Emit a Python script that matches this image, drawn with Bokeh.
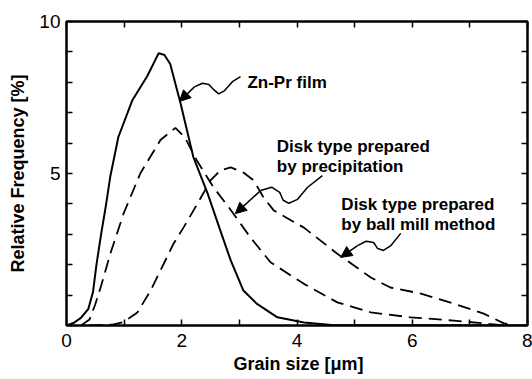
from bokeh.plotting import figure
from bokeh.models import Range1d, LinearAxis, FixedTicker, Title, Arrow, NormalHead, ColumnDataSource
from bokeh.core.properties import value
from bokeh.embed import file_html
from bokeh.resources import INLINE

FONT = "Liberation Sans"

# Zn-Pr film (solid)
zn_x = [0, 0.12, 0.25, 0.38, 0.46, 0.52, 0.6, 0.68, 0.76, 0.9, 1.14, 1.4, 1.6, 1.7, 1.8, 1.98, 2.2, 2.45, 2.67, 2.85, 3.07, 3.3, 3.66, 4.12, 4.6, 8.0]
zn_y = [0, 0.08, 0.25, 0.55, 1.1, 2.0, 3.0, 3.9, 4.9, 6.2, 7.4, 8.2, 8.96, 8.9, 8.6, 7.3, 5.55, 4.34, 3.12, 2.14, 1.15, 0.72, 0.27, 0.1, 0.02, 0]

# Disk type prepared by precipitation (dashed)
pr_x = [0.25, 0.4, 0.5, 0.6, 0.76, 0.99, 1.28, 1.63, 1.89, 2.05, 2.27, 2.55, 2.85, 3.19, 3.54, 4.12, 4.7, 5.28, 5.97, 6.72, 7.24, 7.6]
pr_y = [0, 0.2, 0.7, 1.3, 2.36, 3.68, 5.0, 6.1, 6.5, 6.2, 5.4, 4.55, 3.8, 2.9, 2.08, 1.37, 0.76, 0.43, 0.27, 0.16, 0.07, 0]

# Disk type prepared by ball mill method (dashed)
bm_x = [0.4, 0.8, 1.0, 1.11, 1.23, 1.46, 1.69, 1.86, 2.03, 2.27, 2.5, 2.67, 2.85, 3.07, 3.25, 3.42, 3.6, 4.12, 4.7, 5.28, 5.62, 6.15, 6.72, 7.24, 7.59, 7.8]
bm_y = [0, 0.03, 0.12, 0.27, 0.43, 1.15, 2.04, 2.7, 3.22, 4.0, 4.77, 5.1, 5.2, 5.03, 4.77, 4.21, 3.78, 3.22, 2.36, 1.58, 1.25, 1.05, 0.72, 0.39, 0.07, 0]

x_ticks = [0, 1, 2, 3, 4, 5, 6, 7, 8]
x_tick_labels = {0: "0", 1: "", 2: "2", 3: "", 4: "4", 5: "", 6: "6", 7: "", 8: "8"}
y_ticks = [0, 1, 2, 3, 4, 5, 6, 7, 8, 9, 10]
y_tick_labels = {0: "", 1: "", 2: "", 3: "", 4: "", 5: "5", 6: "", 7: "", 8: "", 9: "", 10: "10"}

# annotation texts and leader lines (data coordinates)
labels = [
    ("Zn-Pr film", 3.14, 7.99),
    ("Disk type prepared", 3.65, 5.89),
    ("by precipitation", 3.65, 5.23),
    ("Disk type prepared", 4.77, 3.98),
    ("by ball mill method", 4.77, 3.32),
]
leader_zn_x = [3.02, 2.88, 2.74, 2.64, 2.56, 2.47, 2.36, 2.22, 1.96]
leader_zn_y = [8.19, 8.02, 7.72, 7.62, 7.75, 7.93, 7.97, 7.85, 7.37]
leader_pr_x = [4.44, 4.18, 4.01, 3.86, 3.76, 3.70, 3.56, 3.37, 2.93]
leader_pr_y = [4.93, 4.54, 4.15, 4.02, 4.12, 4.38, 4.55, 4.44, 3.68]
leader_bm_x = [5.80, 5.63, 5.50, 5.40, 5.33, 5.20, 5.05, 4.76]
leader_bm_y = [3.03, 2.63, 2.47, 2.53, 2.73, 2.77, 2.63, 2.24]

p = figure(width=532, height=379, x_range=Range1d(0, 8), y_range=Range1d(0, 10),
           output_backend="svg", toolbar_location=None,
           min_border_left=66, min_border_right=5, min_border_top=21, min_border_bottom=54)
p.background_fill_color = "white"
p.border_fill_color = "white"
p.grid.visible = False
p.outline_line_color = "black"
p.outline_line_width = 2

bottom = p.below[0]
left = p.left[0]
bottom.ticker = FixedTicker(ticks=x_ticks)
bottom.major_label_overrides = x_tick_labels
left.ticker = FixedTicker(ticks=y_ticks)
left.major_label_overrides = y_tick_labels
left.axis_label = "Relative Frequency [%]"
left.axis_label_text_font = FONT
left.axis_label_text_font_style = "bold"
left.axis_label_text_font_size = "18px"
left.axis_label_text_color = "black"
left.axis_label_standoff = 8

top = LinearAxis(ticker=FixedTicker(ticks=x_ticks))
right = LinearAxis(ticker=FixedTicker(ticks=y_ticks))
p.add_layout(top, "above")
p.add_layout(right, "right")
for ax in (top, right):
    ax.major_label_text_font_size = "0px"
    ax.major_label_standoff = 0
    ax.major_label_overrides = {t: "" for t in (x_ticks if ax is top else y_ticks)}

for ax in (bottom, left, top, right):
    ax.axis_line_width = 2
    ax.axis_line_color = "black"
    ax.major_tick_in = 6
    ax.major_tick_out = 0
    ax.major_tick_line_width = 1.5
    ax.minor_tick_in = 0
    ax.minor_tick_out = 0
    ax.major_label_text_font = FONT
    ax.major_label_text_color = "black"
for ax in (bottom, left):
    ax.major_label_text_font_size = "19px"
bottom.major_label_standoff = 8
left.major_label_standoff = 6

p.line(zn_x, zn_y, line_color="black", line_width=2)
p.line(pr_x, pr_y, line_color="black", line_width=1.8, line_dash="13 7")
p.line(bm_x, bm_y, line_color="black", line_width=1.8, line_dash="13 7")

for lx, ly in ((leader_zn_x, leader_zn_y), (leader_pr_x, leader_pr_y), (leader_bm_x, leader_bm_y)):
    p.line(lx[:-1], ly[:-1], line_color="black", line_width=1.5)
    p.add_layout(Arrow(end=NormalHead(size=11, fill_color="black", line_color="black", line_width=1),
                       x_start=lx[-2], y_start=ly[-2], x_end=lx[-1], y_end=ly[-1],
                       line_color="black", line_width=1.5))

src = ColumnDataSource(dict(t=[l[0] for l in labels], x=[l[1] for l in labels], y=[l[2] for l in labels]))
p.text(x="x", y="y", text="t", source=src, text_font=value(FONT), text_font_style="bold",
       text_font_size="17px", text_align="left", text_baseline="alphabetic", text_color="black")

xlabel = Title(text="Grain size  [μm]", align="left", offset=167, text_font=FONT,
               text_font_style="bold", text_font_size="18px", text_color="black",
               standoff=4)
p.add_layout(xlabel, "below")

open("out.html", "w").write(file_html(p, INLINE))
